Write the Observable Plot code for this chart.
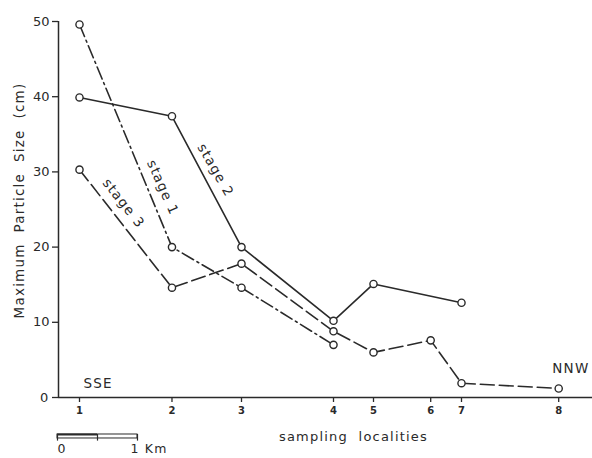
<!DOCTYPE html>
<html><head><meta charset="utf-8">
<script src="https://cdn.jsdelivr.net/npm/d3@7"></script>
<script src="https://cdn.jsdelivr.net/npm/@observablehq/plot@0.6"></script>
<style>
html,body{margin:0;padding:0;background:#fff;}
</style>
</head><body><div id="chart"></div>
<script>
// ---- data ----
const localities = ["1","2","3","4","5","6","7","8"];
const localityKm = [0, 1.156, 2.025, 3.175, 3.675, 4.39, 4.775, 5.99];
const stage1 = [49.6, 20.0, 14.6, 7.0, null, null, null, null];
const stage2 = [39.9, 37.4, 20.0, 10.2, 15.1, null, 12.6, null];
const stage3 = [30.3, 14.6, 17.8, 8.8, 6.0, 7.6, 1.9, 1.2];
const yTicks = [0, 10, 20, 30, 40, 50];
const stageNames = ["stage 1", "stage 2", "stage 3"];
const stageDash = ["13,4,2,4", null, "14,5"];
const stageLabelKm = [1.04, 1.70, 0.55];
const stageLabelValue = [27.9, 30.2, 25.8];
const stageLabelAngle = [66, 60, 52];
const directionLabels = ["SSE", "NNW"];
const directionKm = [0.05, 5.91];
const directionValue = [1.2, 3.2];
const scaleBarKm = [-0.275, 0.725];
const scaleBarLabels = ["0", "1 Km"];
const xTitle = "sampling\u00a0 localities";
const yTitle = "Maximum\u00a0 Particle\u00a0 Size\u00a0 (cm)";

const ink = "#2a2a2a";
const xMin = -0.2625, xMax = 6.4125;
const stageSeries = [stage1, stage2, stage3];
const rows = [];
stageSeries.forEach((vals, s) => vals.forEach((v, i) => {
  if (v != null) rows.push({stage: stageNames[s], km: localityKm[i], value: v});
}));

const lineMarks = stageNames.map((name, s) =>
  Plot.line(rows.filter(r => r.stage === name), {
    x: "km", y: "value", stroke: ink, strokeWidth: 1.6,
    strokeDasharray: stageDash[s] || undefined
  })
);

const labelRows = stageNames.map((n, i) => ({text: n, km: stageLabelKm[i], value: stageLabelValue[i], angle: stageLabelAngle[i]}));

const chart = Plot.plot({
  width: 592, height: 458,
  marginLeft: 58, marginRight: 0, marginTop: 21, marginBottom: 61,
  style: {fontFamily: "'DejaVu Sans', sans-serif", fontSize: "13px", color: ink, background: "#fff", overflow: "visible"},
  x: {domain: [xMin, xMax]},
  y: {domain: [0, 50]},
  marks: [
    Plot.ruleY([0], {stroke: ink, strokeWidth: 1.5}),
    Plot.ruleX([xMin], {y1: 0, y2: 50, stroke: ink, strokeWidth: 1.5}),
    Plot.axisY({ticks: yTicks, tickSize: 6, tickPadding: 3, fontSize: 13, label: null, strokeWidth: 1.3}),
    Plot.axisX({ticks: localityKm, tickFormat: d => localities[localityKm.indexOf(d)], tickSize: 5, tickPadding: 4, fontSize: 10, fontWeight: "bold", label: null, strokeWidth: 1.3}),
    ...lineMarks,
    Plot.dot(rows, {x: "km", y: "value", r: 3.6, stroke: ink, fill: "#fff", strokeWidth: 1.4}),
    ...labelRows.map(d => Plot.text([d], {x: "km", y: "value", text: "text", rotate: d.angle, textAnchor: "middle", lineAnchor: "middle", fontSize: 13.5, fill: ink})),
    Plot.text(directionLabels, {x: (d, i) => directionKm[i], y: (d, i) => directionValue[i], text: d => d, textAnchor: "start", lineAnchor: "bottom", fontSize: 13.5, fill: ink}),
    Plot.text([xTitle], {frameAnchor: "bottom", dx: 28, dy: 43, lineAnchor: "bottom", fontSize: 13, fill: ink}),
    Plot.text([yTitle], {frameAnchor: "left", rotate: -90, dx: -39, dy: -9, lineAnchor: "middle", textAnchor: "middle", fontSize: 13.5, fill: ink}),
    // scale bar
    Plot.rect([0], {x1: scaleBarKm[0], x2: scaleBarKm[1], y1: -4.92, y2: -5.45, stroke: ink, fill: "none", strokeWidth: 1}),
    Plot.ruleY([-4.92], {x1: scaleBarKm[0], x2: (scaleBarKm[0] + scaleBarKm[1]) / 2, stroke: ink, strokeWidth: 1.8}),
    Plot.ruleX([scaleBarKm[0], (scaleBarKm[0] + scaleBarKm[1]) / 2, scaleBarKm[1]], {y1: -4.92, y2: -5.8, stroke: ink, strokeWidth: 1.2}),
    Plot.text(scaleBarLabels, {x: (d, i) => scaleBarKm[i], y: 0, dy: 47, text: d => d, textAnchor: "start", lineAnchor: "top", fontSize: 12.5, fill: ink})
  ]
});

// letter spacing for the typewriter-like labels
const spaced = new Set([xTitle, yTitle, ...stageNames, ...directionLabels, ...scaleBarLabels]);
d3.select(chart).selectAll("text").filter(function() { return spaced.has(this.textContent); })
  .style("letter-spacing", "1.2px");
// centre the "0" and shift "1 Km"
d3.select(chart).selectAll("text").filter(function() { return this.textContent === "0" && this.getAttribute("text-anchor") === "start"; })
  .attr("dx", -3);
d3.select(chart).selectAll("text").filter(function() { return this.textContent === "1 Km"; })
  .attr("dx", -7);
document.getElementById("chart").appendChild(chart);
</script>
</body></html>
